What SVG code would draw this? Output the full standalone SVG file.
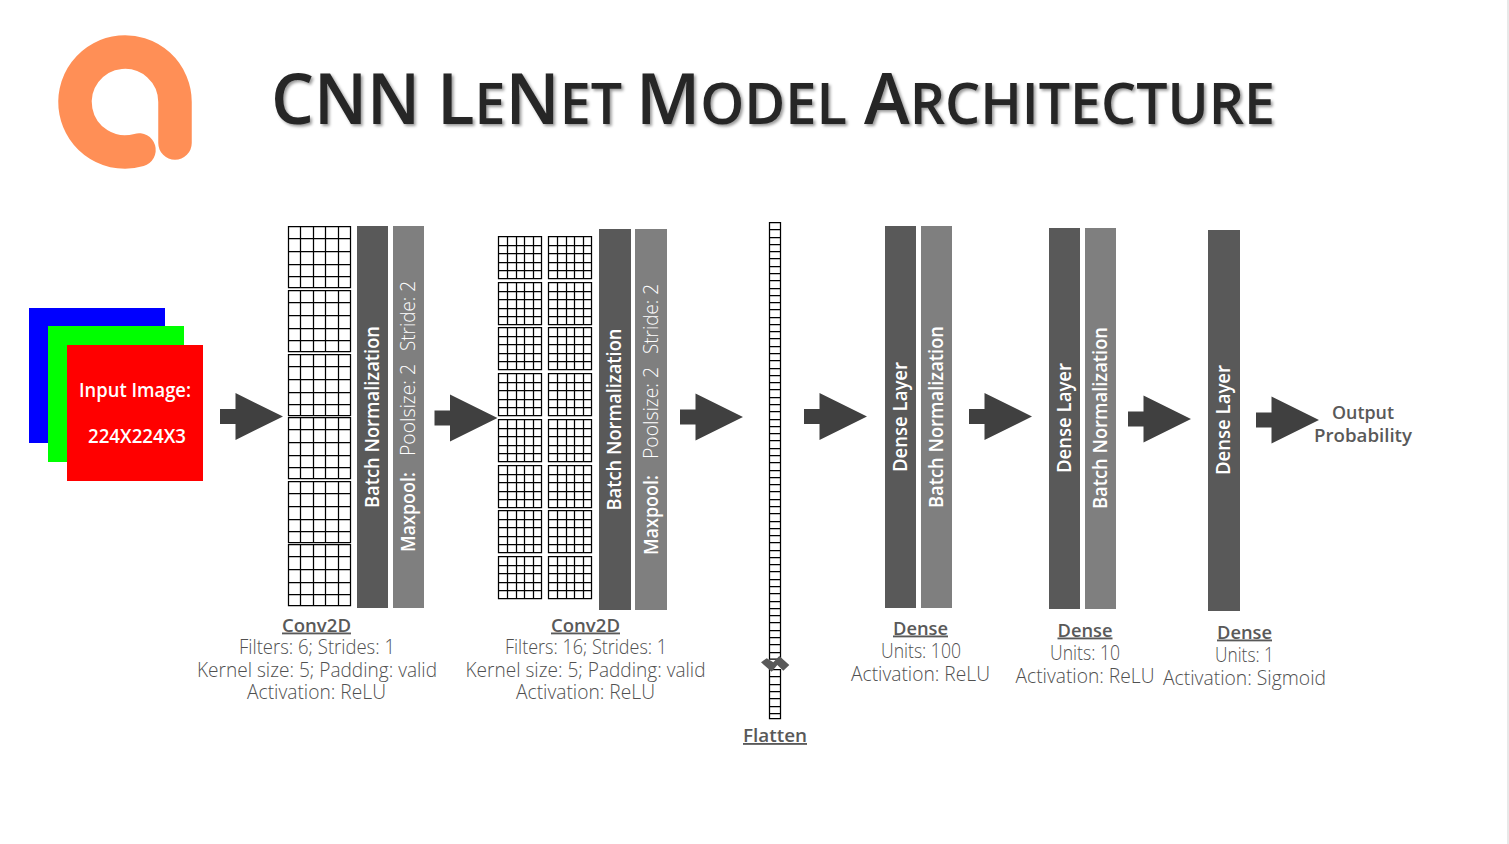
<svg xmlns="http://www.w3.org/2000/svg" xmlns:xlink="http://www.w3.org/1999/xlink" width="1509" height="844" viewBox="0 0 1509 844">
<style>
text{font-family:"Open Sans","Noto Sans","Liberation Sans",sans-serif;text-anchor:middle;fill:#595959;white-space:pre}
.t{font-size:20px;font-weight:300;fill:#505050}
.h{font-size:18.500px;font-weight:600;text-decoration:underline}
.b{font-size:19.500px;font-weight:600;fill:#fff}
.l{font-size:20px;font-weight:300;fill:#fff;text-anchor:start}
.bs{font-size:19.500px;font-weight:600;fill:#fff;text-anchor:start}
.d{fill:#595959}.m{fill:#7f7f7f}
.g{fill:none;stroke:#000;stroke-width:1.250}
.a{fill:#404040}
.w{font-size:19px;font-weight:600;fill:#fff}
.o{font-size:18.500px;font-weight:600}
.c{font-size:71px;font-weight:650;fill:#262626;text-anchor:start}
.c tspan{font-size:57px}
</style>
<defs>
<filter id="sh" x="-5%" y="-20%" width="110%" height="140%"><feDropShadow dx="2" dy="2" stdDeviation="1.500" flood-color="#000" flood-opacity=".4"/></filter>
<g id="big"><path class="g" d="M288.500 226.500H350.500V287.500H288.500ZM300.500 226.500V287.500M313.500 226.500V287.500M325.500 226.500V287.500M338.500 226.500V287.500M288.500 238.500H350.500M288.500 251.500H350.500M288.500 264.500H350.500M288.500 276.500H350.500"/></g>
<path id="sm" class="g" d="M498.500 236.500H541.500V278.500H498.500ZM507.500 236.500V278.500M516.500 236.500V278.500M524.500 236.500V278.500M533.500 236.500V278.500M498.500 245.500H541.500M498.500 253.500H541.500M498.500 262.500H541.500M498.500 270.500H541.500"/>
<polygon id="ar" class="a" points="0,-7.500 15.500,-7.500 15.500,-23.500 63,0 15.500,23.500 15.500,7.500 0,7.500"/>
</defs>
<rect width="1509" height="844" fill="#fff"/>
<rect x="1507" width="2" height="844" fill="#e8e8e8"/>
<g id="logo"><path d="M175 102A50 50 0 1 0 139 150M175 102V143" fill="none" stroke="#ff8f56" stroke-width="33.500" stroke-linecap="round"/></g>
<g id="title" filter="url(#sh)">
<text class="c" x="271" y="124" textLength="149" lengthAdjust="spacingAndGlyphs">CNN</text>
<text class="c" x="437" y="124" textLength="185" lengthAdjust="spacingAndGlyphs">L<tspan>E</tspan>N<tspan>ET</tspan></text>
<text class="c" x="636" y="124" textLength="211" lengthAdjust="spacingAndGlyphs">M<tspan>ODEL</tspan></text>
<text class="c" x="864" y="124" textLength="411" lengthAdjust="spacingAndGlyphs">A<tspan>RCHITECTURE</tspan></text>
</g>
<g id="input">
<rect x="29" y="308" width="136" height="135" fill="#00f"/>
<rect x="48" y="326" width="136" height="136" fill="#0f0"/>
<rect x="67" y="345" width="136" height="136" fill="#f00"/>
<text class="w" x="135" y="397" textLength="112" lengthAdjust="spacingAndGlyphs">Input Image:</text>
<text class="w" x="137" y="443" textLength="98" lengthAdjust="spacingAndGlyphs">224X224X3</text>
</g>
<g id="conv1">
<use xlink:href="#big"/><use xlink:href="#big" y="64"/><use xlink:href="#big" y="128"/><use xlink:href="#big" y="191"/><use xlink:href="#big" y="255"/><use xlink:href="#big" y="318"/>
<rect class="d" x="357" y="226" width="31" height="382"/>
<rect class="m" x="393" y="226" width="31" height="382"/>
<text class="b" transform="translate(379 417) rotate(-90)" textLength="182" lengthAdjust="spacingAndGlyphs">Batch Normalization</text>
<text class="bs" transform="translate(414.500 552) rotate(-90)" textLength="80" lengthAdjust="spacingAndGlyphs">Maxpool:</text>
<text class="l" transform="translate(414.500 456) rotate(-90)" textLength="92" lengthAdjust="spacingAndGlyphs">Poolsize: 2</text>
<text class="l" transform="translate(414.500 351) rotate(-90)" textLength="70" lengthAdjust="spacingAndGlyphs">Stride: 2</text>
<text class="h" x="316.500" y="631.500" textLength="69" lengthAdjust="spacingAndGlyphs">Conv2D</text>
<text class="t" x="317" y="654" textLength="156" lengthAdjust="spacingAndGlyphs">Filters: 6; Strides: 1</text>
<text class="t" x="317" y="677" textLength="240" lengthAdjust="spacingAndGlyphs">Kernel size: 5; Padding: valid</text>
<text class="t" x="316.500" y="699" textLength="139" lengthAdjust="spacingAndGlyphs">Activation: ReLU</text>
</g>
<g id="conv2">
<use xlink:href="#sm"/><use xlink:href="#sm" x="50"/>
<use xlink:href="#sm" y="46"/><use xlink:href="#sm" x="50" y="46"/>
<use xlink:href="#sm" y="91"/><use xlink:href="#sm" x="50" y="91"/>
<use xlink:href="#sm" y="137"/><use xlink:href="#sm" x="50" y="137"/>
<use xlink:href="#sm" y="183"/><use xlink:href="#sm" x="50" y="183"/>
<use xlink:href="#sm" y="229"/><use xlink:href="#sm" x="50" y="229"/>
<use xlink:href="#sm" y="274"/><use xlink:href="#sm" x="50" y="274"/>
<use xlink:href="#sm" y="320"/><use xlink:href="#sm" x="50" y="320"/>
<rect class="d" x="599" y="229" width="32" height="381"/>
<rect class="m" x="635" y="229" width="32" height="381"/>
<text class="b" transform="translate(621 419.500) rotate(-90)" textLength="182" lengthAdjust="spacingAndGlyphs">Batch Normalization</text>
<text class="bs" transform="translate(657.500 555) rotate(-90)" textLength="80" lengthAdjust="spacingAndGlyphs">Maxpool:</text>
<text class="l" transform="translate(657.500 459) rotate(-90)" textLength="92" lengthAdjust="spacingAndGlyphs">Poolsize: 2</text>
<text class="l" transform="translate(657.500 354) rotate(-90)" textLength="70" lengthAdjust="spacingAndGlyphs">Stride: 2</text>
<text class="h" x="585.500" y="631.500" textLength="69" lengthAdjust="spacingAndGlyphs">Conv2D</text>
<text class="t" x="586" y="654" textLength="162" lengthAdjust="spacingAndGlyphs">Filters: 16; Strides: 1</text>
<text class="t" x="585.500" y="677" textLength="240" lengthAdjust="spacingAndGlyphs">Kernel size: 5; Padding: valid</text>
<text class="t" x="585.500" y="699" textLength="139" lengthAdjust="spacingAndGlyphs">Activation: ReLU</text>
</g>
<g id="flatten">
<path class="g" d="M769.500 222.500H780.500V659H769.500ZM769.500 669.500H780.500V718.500H769.500ZM769.500 229.500H780.500M769.500 237.500H780.500M769.500 244.500H780.500M769.500 251.500H780.500M769.500 258.500H780.500M769.500 266.500H780.500M769.500 273.500H780.500M769.500 280.500H780.500M769.500 288.500H780.500M769.500 295.500H780.500M769.500 302.500H780.500M769.500 309.500H780.500M769.500 317.500H780.500M769.500 324.500H780.500M769.500 331.500H780.500M769.500 338.500H780.500M769.500 346.500H780.500M769.500 353.500H780.500M769.500 360.500H780.500M769.500 368.500H780.500M769.500 375.500H780.500M769.500 382.500H780.500M769.500 389.500H780.500M769.500 397.500H780.500M769.500 404.500H780.500M769.500 411.500H780.500M769.500 419.500H780.500M769.500 426.500H780.500M769.500 433.500H780.500M769.500 440.500H780.500M769.500 448.500H780.500M769.500 455.500H780.500M769.500 462.500H780.500M769.500 470.500H780.500M769.500 477.500H780.500M769.500 484.500H780.500M769.500 491.500H780.500M769.500 499.500H780.500M769.500 506.500H780.500M769.500 513.500H780.500M769.500 521.500H780.500M769.500 528.500H780.500M769.500 535.500H780.500M769.500 542.500H780.500M769.500 550.500H780.500M769.500 557.500H780.500M769.500 564.500H780.500M769.500 571.500H780.500M769.500 579.500H780.500M769.500 586.500H780.500M769.500 593.500H780.500M769.500 601.500H780.500M769.500 608.500H780.500M769.500 615.500H780.500M769.500 622.500H780.500M769.500 630.500H780.500M769.500 637.500H780.500M769.500 644.500H780.500M769.500 652.500H780.500M769.500 676.500H780.500M769.500 684.500H780.500M769.500 691.500H780.500M769.500 698.500H780.500M769.500 706.500H780.500M769.500 713.500H780.500"/>
<path d="M761 662.300L766.700 658.300L773.300 662.300L779.300 656L789.300 665L783.300 670.700L777.300 665L771.700 671.700Z" fill="#595959"/>
<text class="h" x="775" y="742" textLength="64" lengthAdjust="spacingAndGlyphs">Flatten</text>
</g>
<g id="dense1">
<rect class="d" x="885" y="226" width="31" height="382"/>
<rect class="m" x="921" y="226" width="31" height="382"/>
<text class="b" transform="translate(907 417) rotate(-90)" textLength="110" lengthAdjust="spacingAndGlyphs">Dense Layer</text>
<text class="b" transform="translate(943 417) rotate(-90)" textLength="182" lengthAdjust="spacingAndGlyphs">Batch Normalization</text>
<text class="h" x="920.500" y="634.500" textLength="55" lengthAdjust="spacingAndGlyphs">Dense</text>
<text class="t" x="921" y="658" textLength="80" lengthAdjust="spacingAndGlyphs">Units: 100</text>
<text class="t" x="920.500" y="681" textLength="139" lengthAdjust="spacingAndGlyphs">Activation: ReLU</text>
</g>
<g id="dense2">
<rect class="d" x="1049" y="228" width="31" height="381"/>
<rect class="m" x="1085" y="228" width="31" height="381"/>
<text class="b" transform="translate(1071 418) rotate(-90)" textLength="110" lengthAdjust="spacingAndGlyphs">Dense Layer</text>
<text class="b" transform="translate(1107 418) rotate(-90)" textLength="182" lengthAdjust="spacingAndGlyphs">Batch Normalization</text>
<text class="h" x="1085" y="636.500" textLength="55" lengthAdjust="spacingAndGlyphs">Dense</text>
<text class="t" x="1085" y="660" textLength="70" lengthAdjust="spacingAndGlyphs">Units: 10</text>
<text class="t" x="1085" y="683" textLength="139" lengthAdjust="spacingAndGlyphs">Activation: ReLU</text>
</g>
<g id="dense3">
<rect class="d" x="1208" y="230" width="32" height="381"/>
<text class="b" transform="translate(1230 420) rotate(-90)" textLength="110" lengthAdjust="spacingAndGlyphs">Dense Layer</text>
<text class="h" x="1244.500" y="638.500" textLength="55" lengthAdjust="spacingAndGlyphs">Dense</text>
<text class="t" x="1244.500" y="662" textLength="59" lengthAdjust="spacingAndGlyphs">Units: 1</text>
<text class="t" x="1244.500" y="685" textLength="163" lengthAdjust="spacingAndGlyphs">Activation: Sigmoid</text>
</g>
<g id="output">
<text class="o" x="1363" y="418.500" textLength="62" lengthAdjust="spacingAndGlyphs">Output</text>
<text class="o" x="1363" y="441.500" textLength="98" lengthAdjust="spacingAndGlyphs">Probability</text>
</g>
<g id="connectors">
<use xlink:href="#ar" transform="translate(220 416.500)"/>
<use xlink:href="#ar" transform="translate(434.500 418)"/>
<use xlink:href="#ar" transform="translate(680 417)"/>
<use xlink:href="#ar" transform="translate(804 416.500)"/>
<use xlink:href="#ar" transform="translate(969 416.500)"/>
<use xlink:href="#ar" transform="translate(1128 419)"/>
<use xlink:href="#ar" transform="translate(1256 420)"/>
</g>
</svg>
